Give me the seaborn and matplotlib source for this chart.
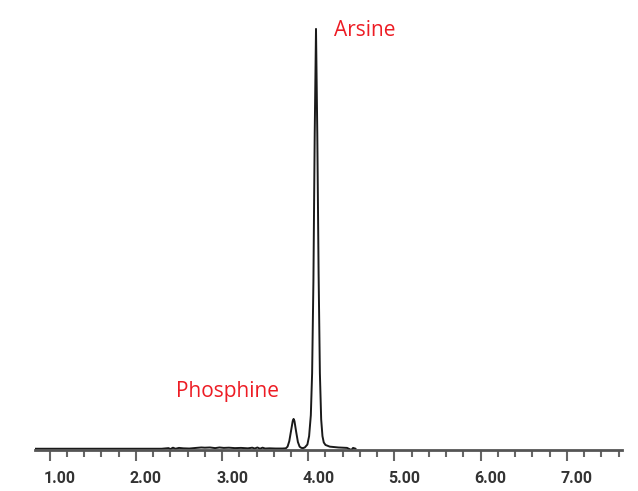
import matplotlib
matplotlib.use("Agg")
import matplotlib.pyplot as plt
import matplotlib.transforms as mtransforms
from matplotlib.ticker import MultipleLocator, FixedLocator
import seaborn as sns
import pandas as pd

# Retention time (min) and detector signal (arbitrary units)
time_min = [0.83, 2.30, 2.38, 2.40, 2.43, 2.46, 2.50, 2.55, 2.62, 2.70, 2.76, 2.80,
            2.86, 2.92, 2.97, 3.02, 3.08, 3.15, 3.22, 3.30, 3.35, 3.38, 3.41, 3.44,
            3.47, 3.50, 3.55, 3.62, 3.70,
            3.74, 3.76, 3.78, 3.80, 3.82, 3.83, 3.84, 3.86, 3.88, 3.90, 3.92, 3.94,
            3.96, 3.99, 4.01, 4.03, 4.045, 4.06, 4.075, 4.09, 4.105, 4.12, 4.135,
            4.15, 4.165, 4.18, 4.20, 4.25, 4.35, 4.45, 4.50, 4.52, 4.55]
signal = [0.0, 0.0, 0.15, -0.1, 0.25, 0.0, 0.2, 0.1, 0.05, 0.2, 0.3, 0.25,
          0.3, 0.15, 0.3, 0.2, 0.25, 0.15, 0.2, 0.1, 0.25, 0.05, 0.3, 0.0,
          0.25, 0.05, 0.1, 0.05, 0.05,
          0.1, 0.5, 1.8, 4.2, 6.6, 7.1, 6.6, 4.0, 1.6, 0.5, 0.2, 0.15,
          0.3, 1.0, 3.0, 8.0, 18.0, 40.0, 75.0, 100.0, 75.0, 42.0, 18.0,
          7.0, 3.0, 1.5, 0.9, 0.5, 0.3, 0.2, -0.3, 0.2, 0.0]

tick_labels = ["1.00", "2.00", "3.00", "4.00", "5.00", "6.00", "7.00"]
major_ticks = [1, 2, 3, 4, 5, 6, 7]

peak_names = ["Arsine", "Phosphine"]
peak_label_x = [4.30, 2.47]
peak_label_y = [98.3, 12.4]

df = pd.DataFrame({"time": time_min, "signal": signal})

sns.set_theme(style="white")

fig = plt.figure(figsize=(6.38, 4.91), dpi=100)
ax = fig.add_axes([35 / 638, 41 / 491, 587 / 638, 440 / 491])

sns.lineplot(data=df, x="time", y="signal", ax=ax, sort=False, estimator=None,
             color="#1a1a1a", linewidth=1.4)

ax.set_xlim(0.83, 7.64)
ax.set_ylim(-0.3, 104.5)

for s in ["top", "right", "left"]:
    ax.spines[s].set_visible(False)
ax.spines["bottom"].set_color("#555555")
ax.spines["bottom"].set_linewidth(2.0)

ax.set_yticks([])
ax.xaxis.set_major_locator(FixedLocator(major_ticks))
ax.xaxis.set_minor_locator(MultipleLocator(0.2))
ax.set_xticklabels(tick_labels)
ax.tick_params(axis="x", which="major", direction="out", length=8, width=1.5,
               color="#666666", pad=7.0, bottom=True)
ax.tick_params(axis="x", which="minor", direction="out", length=5, width=1.5,
               color="#666666", bottom=True)

offset = mtransforms.ScaledTranslation(0.10, 0, fig.dpi_scale_trans)
for lbl in ax.get_xticklabels():
    lbl.set_family(["Roboto", "DejaVu Sans"])
    lbl.set_fontsize(11.5)
    lbl.set_fontweight("bold")
    lbl.set_color("#333333")
    lbl.set_transform(lbl.get_transform() + offset)

ax.set_xlabel("")
ax.set_ylabel("")

for name, x, y in zip(peak_names, peak_label_x, peak_label_y):
    ax.text(x, y, name, color="#ed1c24", fontsize=15,
            family=["Open Sans", "DejaVu Sans"], ha="left", va="baseline")

fig.savefig("out.png", dpi=100, facecolor="white")
